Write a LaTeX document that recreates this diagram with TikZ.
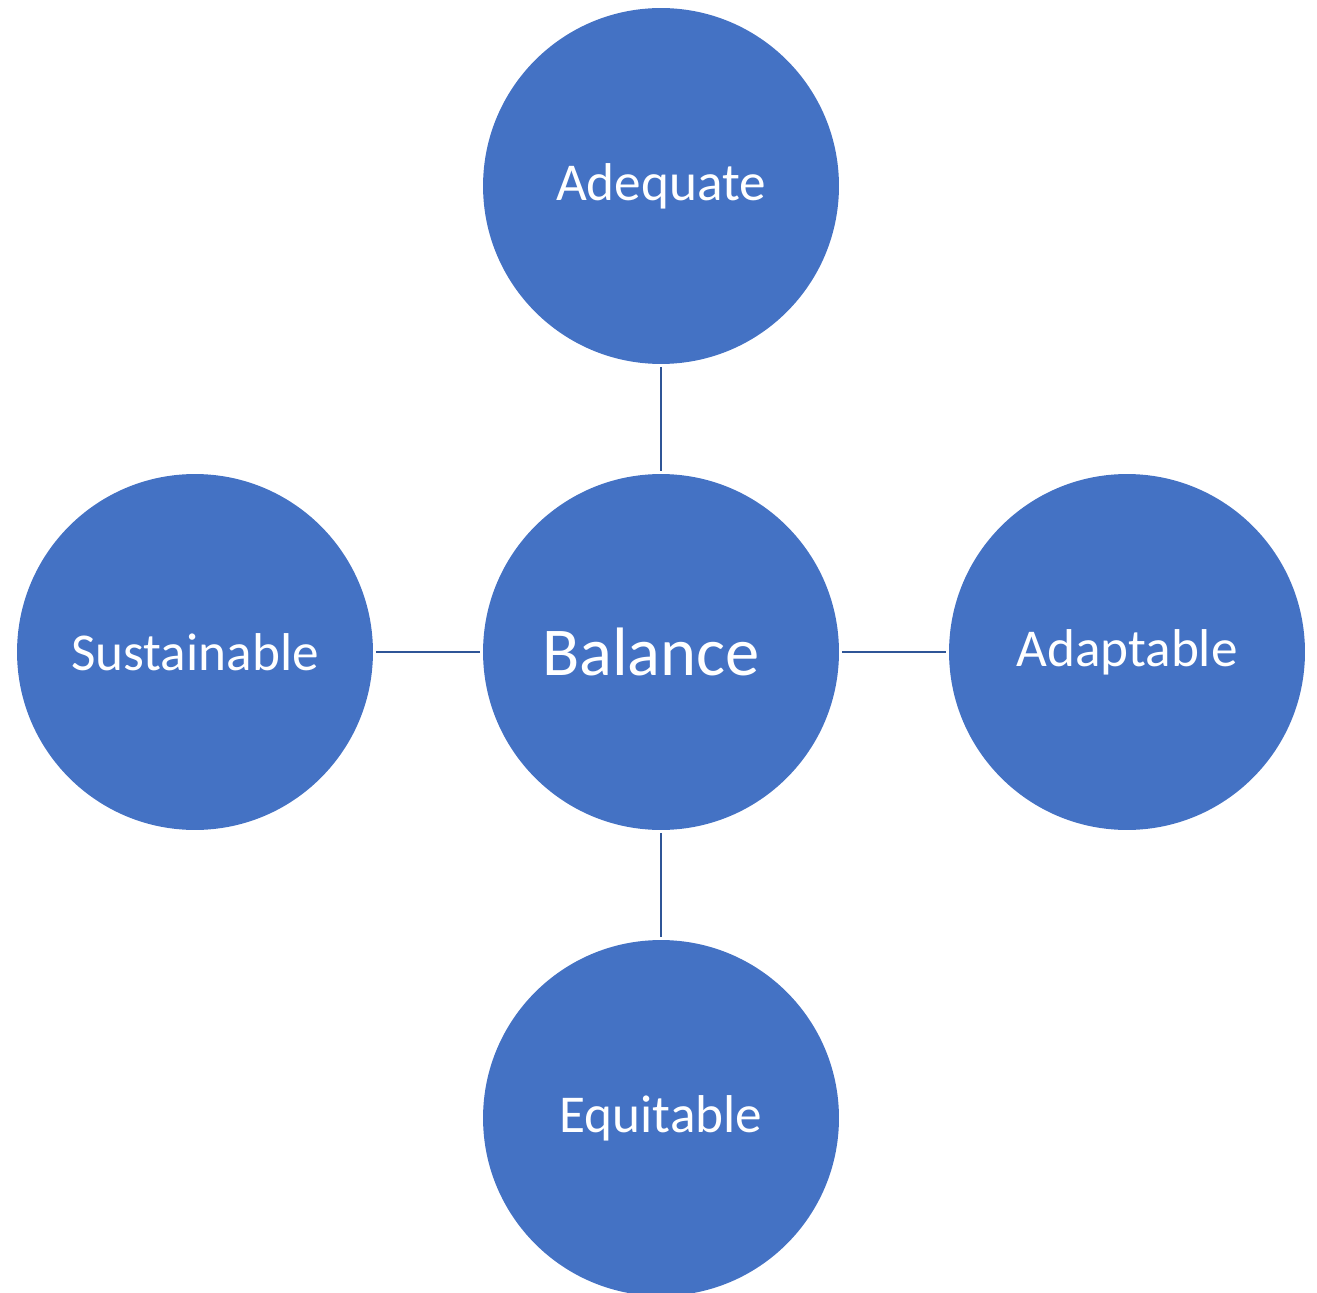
\documentclass[tikz,border=0pt]{standalone}
\usepackage{fontspec}
\setmainfont{Carlito}
\definecolor{fillblue}{HTML}{4472C4}
\definecolor{lineblue}{HTML}{2F5597}
\begin{document}
\begin{tikzpicture}[x=0.02cm,y=-0.02cm,
  bubble/.style={circle,fill=fillblue,draw=none,minimum size=7.12cm,inner sep=0pt,outer sep=0pt,text=white,font=\fontsize{30.3}{36}\selectfont},
  link/.style={draw=lineblue,line width=1.5pt,shorten <=0.06cm,shorten >=0.06cm}]
\useasboundingbox (0,0) rectangle (1317,1293);
\node[bubble] (top) at (661,186) {Adequate};
\node[bubble,font=\fontsize{39}{46}\selectfont] (mid) at (661,652) {\hspace*{-0.4cm}Balance};
\node[bubble] (left) at (195,652) {Sustainable};
\node[bubble] (right) at (1127,652) {Adaptable};
\node[bubble] (bot) at (661,1118) {Equitable};
\draw[link] (top) -- (mid);
\draw[link] (mid) -- (bot);
\draw[link] (left) -- (mid);
\draw[link] (mid) -- (right);
\end{tikzpicture}
\end{document}
